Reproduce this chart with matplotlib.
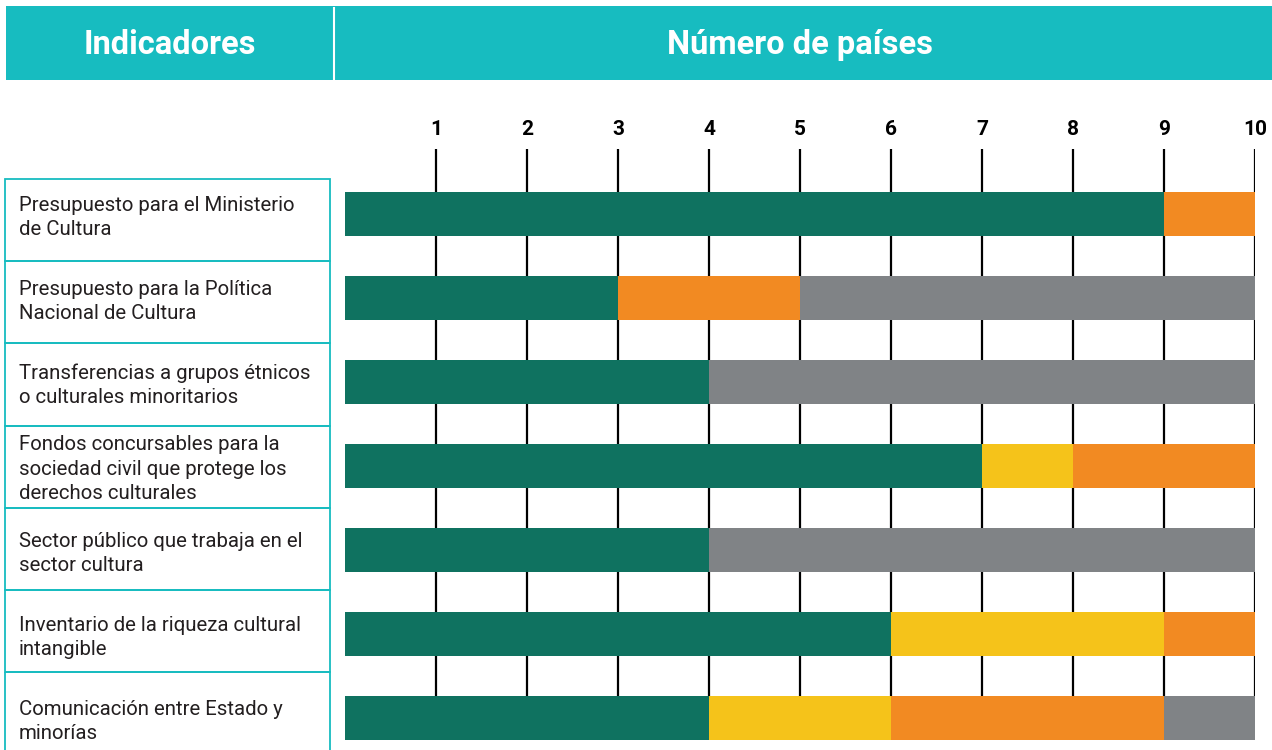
import matplotlib.pyplot as plt
from matplotlib.patches import Rectangle
from matplotlib.transforms import blended_transform_factory

plt.rcParams['font.family'] = ['Roboto', 'DejaVu Sans']

indicadores = [
    "Presupuesto para el Ministerio\nde Cultura",
    "Presupuesto para la Política\nNacional de Cultura",
    "Transferencias a grupos étnicos\no culturales minoritarios",
    "Fondos concursables para la\nsociedad civil que protege los\nderechos culturales",
    "Sector público que trabaja en el\nsector cultura",
    "Inventario de la riqueza cultural\nintangible",
    "Comunicación entre Estado y\nminorías",
]

# paises por categoria (de izquierda a derecha)
verde = [9, 3, 4, 7, 4, 6, 4]
amarillo = [0, 0, 0, 1, 0, 3, 2]
naranja = [1, 2, 0, 2, 0, 1, 3]
gris = [0, 5, 6, 0, 6, 0, 1]

ticks = list(range(1, 11))

teal = '#17BCC0'
colores = ['#0F7260', '#F5C31A', '#F28A22', '#808386']

W, H = 1272, 750
fig = plt.figure(figsize=(W / 100, H / 100), dpi=100)

# fondo en coordenadas de pixel
bg = fig.add_axes([0, 0, 1, 1])
bg.set_xlim(0, W)
bg.set_ylim(H, 0)
bg.axis('off')

bg.add_patch(Rectangle((6, 6), W - 6, 74, color=teal, lw=0))
bg.plot([334, 334], [8, 79], color='white', lw=1.5)
bg.text(170, 45, "Indicadores", color='white', fontsize=23.5, fontweight='bold',
        ha='center', va='center')
bg.text(800, 45, "Número de países", color='white', fontsize=23.5, fontweight='bold',
        ha='center', va='center')

# barras
ax = fig.add_axes([345 / W, 0, 910 / W, 601 / H])
ax.set_zorder(2)
ax.patch.set_alpha(0)
n = len(indicadores)
ax.set_xlim(0, 10)
ax.set_ylim((750 - 214) / 84, -65 / 84)
ax.vlines(ticks, n - 1, ax.get_ylim()[1], color='black', lw=1.6, zorder=1)

y = list(range(n))
left = [0] * n
for vals, c in zip([verde, amarillo, naranja, gris], colores):
    ax.barh(y, vals, left=left, height=44 / 84, color=c, lw=0, zorder=2)
    left = [a + b for a, b in zip(left, vals)]

ax.xaxis.tick_top()
ax.set_xticks(ticks)
ax.set_xticklabels([str(t) for t in ticks], fontsize=15, fontweight='bold')
ax.tick_params(axis='x', length=0, pad=7)
ax.set_yticks([])
for s in ax.spines.values():
    s.set_visible(False)

# cajas de indicadores
for i in range(n):
    bg.add_patch(Rectangle((4.5, 179 + i * 82.2), 325.5, 82.2, fill=False,
                           edgecolor=teal, lw=1.3))

tr = blended_transform_factory(bg.transData, ax.transData)
for i, lab in enumerate(indicadores):
    ax.text(19, i + 0.04, lab, transform=tr, fontsize=14.7, color='#231F20',
            ha='left', va='center', linespacing=1.37, clip_on=False)

fig.savefig('out.png', dpi=100)
